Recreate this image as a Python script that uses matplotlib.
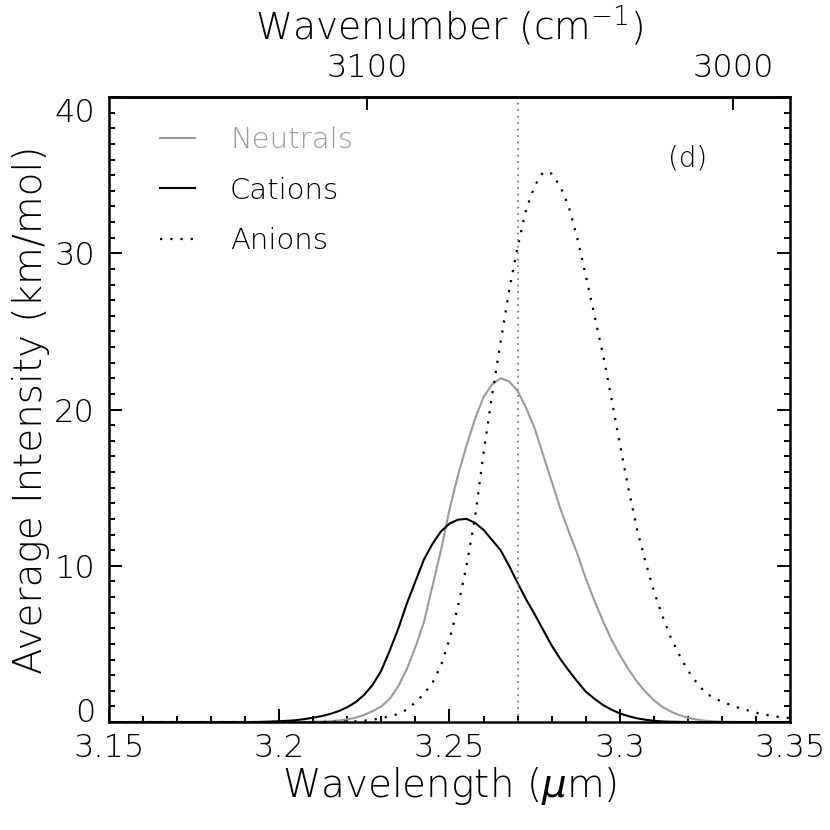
import numpy as np
import matplotlib
matplotlib.use('Agg')
import matplotlib.pyplot as plt
import matplotlib.transforms as mtransforms
from matplotlib.ticker import MultipleLocator, NullLocator
from matplotlib.lines import Line2D

plt.rcParams['font.family'] = ['DejaVu Sans']
plt.rcParams['font.weight'] = 'light'
plt.rcParams['axes.labelweight'] = 'light'

# wavelength grid (micron), 0.0025 steps from 3.15 to 3.35
wavelength = [3.1500, 3.1525, 3.1550, 3.1575, 3.1600, 3.1625, 3.1650, 3.1675,
              3.1700, 3.1725, 3.1750, 3.1775, 3.1800, 3.1825, 3.1850, 3.1875,
              3.1900, 3.1925, 3.1950, 3.1975, 3.2000, 3.2025, 3.2050, 3.2075,
              3.2100, 3.2125, 3.2150, 3.2175, 3.2200, 3.2225, 3.2250, 3.2275,
              3.2300, 3.2325, 3.2350, 3.2375, 3.2400, 3.2425, 3.2450, 3.2475,
              3.2500, 3.2525, 3.2550, 3.2575, 3.2600, 3.2625, 3.2650, 3.2675,
              3.2700, 3.2725, 3.2750, 3.2775, 3.2800, 3.2825, 3.2850, 3.2875,
              3.2900, 3.2925, 3.2950, 3.2975, 3.3000, 3.3025, 3.3050, 3.3075,
              3.3100, 3.3125, 3.3150, 3.3175, 3.3200, 3.3225, 3.3250, 3.3275,
              3.3300, 3.3325, 3.3350, 3.3375, 3.3400, 3.3425, 3.3450, 3.3475,
              3.3500]
neutrals = [0, 0, 0, 0, 0, 0, 0, 0,
            0, 0, 0, 0, 0, 0, 0, 0,
            0, 0, 0, 0, 0, 0, 0, 0,
            0.01, 0.03, 0.05, 0.10, 0.17, 0.28, 0.46, 0.70,
            1.0, 1.5, 2.3, 3.4, 4.8, 6.4, 8.7, 11.0,
            13.6, 15.8, 17.7, 19.4, 20.8, 21.6, 22.0, 21.8,
            21.2, 20.1, 18.8, 17.1, 15.4, 13.7, 12.2, 10.8,
            9.2, 7.8, 6.5, 5.3, 4.3, 3.4, 2.6, 1.95,
            1.4, 0.97, 0.67, 0.44, 0.27, 0.16, 0.08, 0.04,
            0.02, 0.01, 0, 0, 0, 0, 0, 0,
            0]
cations = [0, 0, 0, 0, 0, 0, 0, 0,
           0, 0, 0, 0, 0, 0, 0, 0,
           0, 0, 0.01, 0.03, 0.05, 0.08, 0.12, 0.19,
           0.28, 0.38, 0.52, 0.70, 0.95, 1.28, 1.75, 2.4,
           3.3, 4.6, 6.0, 7.6, 9.0, 10.4, 11.4, 12.2,
           12.7, 12.95, 13.0, 12.75, 12.3, 11.65, 11.0, 10.0,
           8.9, 7.85, 6.9, 5.9, 4.9, 4.05, 3.3, 2.6,
           1.95, 1.5, 1.1, 0.8, 0.55, 0.38, 0.24, 0.15,
           0.08, 0.04, 0.02, 0.01, 0, 0, 0, 0,
           0, 0, 0, 0, 0, 0, 0, 0,
           0]
anions = [0, 0, 0, 0, 0, 0, 0, 0,
          0, 0, 0, 0, 0, 0, 0, 0,
          0, 0, 0, 0, 0, 0, 0, 0,
          0, 0.005, 0.01, 0.02, 0.03, 0.05, 0.09, 0.15,
          0.25, 0.36, 0.52, 0.8, 1.25, 1.8, 2.5, 3.6,
          5.3, 7.4, 10.0, 13.1, 17.2, 20.9, 24.3, 27.6,
          30.4, 32.8, 34.3, 35.2, 35.1, 34.3, 33.0, 31.0,
          28.6, 26.1, 23.6, 20.8, 17.8, 15.0, 12.4, 10.3,
          8.4, 6.8, 5.4, 4.3, 3.3, 2.55, 1.9, 1.55,
          1.3, 1.1, 0.9, 0.75, 0.6, 0.48, 0.38, 0.3,
          0.25]

xticks = [3.15, 3.2, 3.25, 3.3, 3.35]
xticklabels = ['3.15', '3.2', '3.25', '3.3', '3.35']
yticks = [0, 10, 20, 30, 40]
wn_ticks = [3100, 3000]
marker_wl = 3.27

grey = '#9a9a9a'
dots = (0, (1, 3.6))

fig = plt.figure(figsize=(8.3, 8.3), dpi=100)
ax = fig.add_axes([0.1313, 0.1301, 0.8205, 0.753])

ax.plot(wavelength, neutrals, color=grey, lw=1.5)
ax.plot(wavelength, cations, color='black', lw=1.5)
ax.plot(wavelength, anions, color='black', lw=1.6, ls=dots)
ax.axvline(marker_wl, color='#7f7f7f', lw=1.3, ls=(0, (1, 2.6)))

ax.set_xlim(3.15, 3.35)
ax.set_ylim(0, 40)
ax.set_xticks(xticks)
ax.set_xticklabels(xticklabels)
ax.set_yticks(yticks)
ax.xaxis.set_minor_locator(MultipleLocator(0.01))
ax.yaxis.set_minor_locator(MultipleLocator(1))
ax.tick_params(which='both', direction='in', top=False, right=True, width=1.4)
ax.tick_params(which='major', length=9.5, labelsize=23)
ax.tick_params(which='minor', length=4.5)
ax.tick_params(axis='x', which='major', pad=8)
ax.tick_params(axis='y', which='major', pad=10)
for s in ax.spines.values():
    s.set_linewidth(1.8)

# end labels of the y axis sit a little inside the frame, as in the original
yt = ax.yaxis.get_major_ticks()
yt[0].label1.set_transform(yt[0].label1.get_transform()
                           + mtransforms.ScaledTranslation(0, 9 / 72, fig.dpi_scale_trans))
yt[-1].label1.set_transform(yt[-1].label1.get_transform()
                            + mtransforms.ScaledTranslation(0, -9 / 72, fig.dpi_scale_trans))

ax.set_xlabel('Wavelength ($\\mu$m)', fontsize=28, labelpad=1)
ax.set_ylabel('Average Intensity (km/mol)', fontsize=28, labelpad=3)


def to_wn(x):
    x = np.asarray(x, dtype=float)
    with np.errstate(divide='ignore'):
        return 1e4 / x


secax = ax.secondary_xaxis('top', functions=(to_wn, to_wn))
secax.set_xticks(wn_ticks)
secax.xaxis.set_minor_locator(NullLocator())
secax.tick_params(direction='in', length=9.5, width=1.4, labelsize=23, pad=10)
secax.spines['top'].set_linewidth(1.8)
secax.set_xlabel('Wavenumber (cm$^{-1}$)', fontsize=27, labelpad=10)

handles = [Line2D([], [], color=grey, lw=1.5),
           Line2D([], [], color='black', lw=1.5),
           Line2D([], [], color='black', lw=1.6, ls=dots)]
leg = ax.legend(handles, ['Neutrals', 'Cations', 'Anions'], loc='upper left',
                bbox_to_anchor=(0.075, 0.953), frameon=False, fontsize=21,
                handlelength=1.2, handletextpad=1.2, labelspacing=0.76,
                borderpad=0, borderaxespad=0)
leg.get_texts()[0].set_color(grey)

ax.text(0.85, 0.902, '(d)', transform=ax.transAxes, fontsize=20,
        ha='center', va='center')

fig.savefig('out.png', dpi=100)
